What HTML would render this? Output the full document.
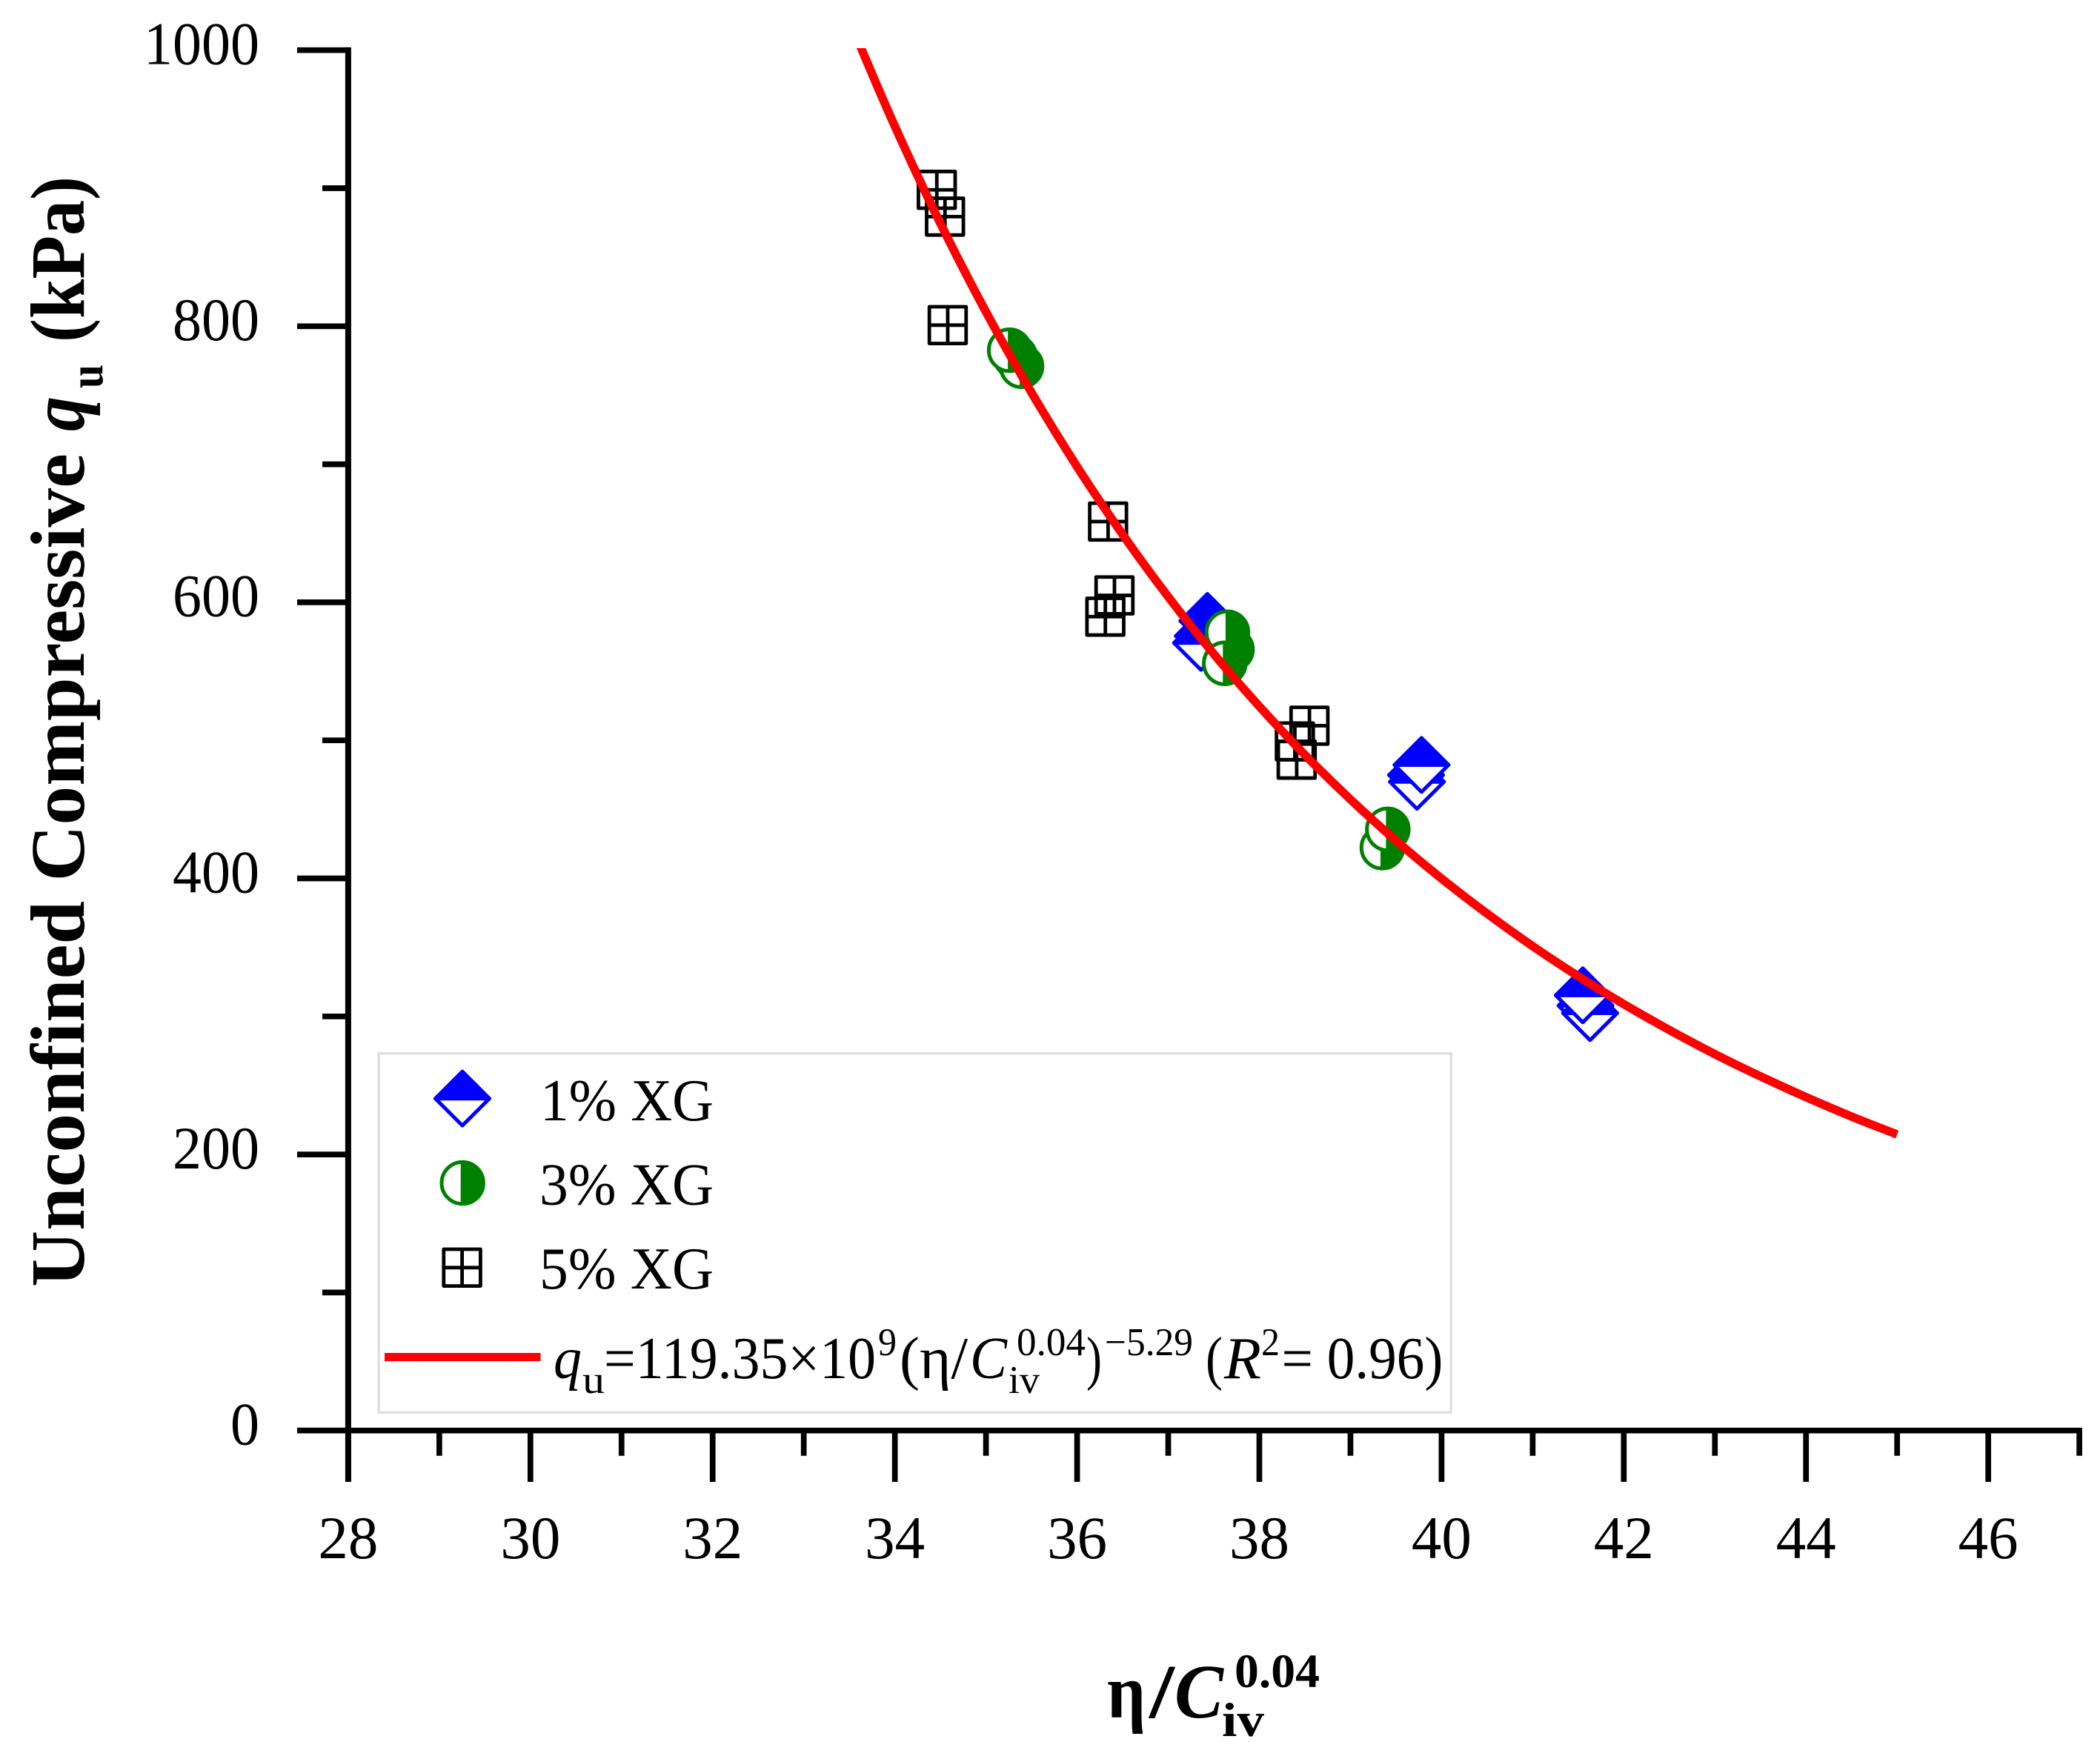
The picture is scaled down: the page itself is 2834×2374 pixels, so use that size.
<!DOCTYPE html>
<html lang="en">
<head>
<meta charset="utf-8">
<title>Unconfined Compressive Strength Chart</title>
<style>
html,body{margin:0;padding:0;background:#fff;}
svg{display:block;}
text{font-family:"Liberation Serif","DejaVu Serif",serif;fill:#000;}
.leg{font-size:80px;}
.small{font-size:53px;}
.ttl{font-weight:bold;font-size:104px;}
.ttls{font-weight:bold;font-size:65px;}
</style>
</head>
<body>
<svg id="chart" xmlns="http://www.w3.org/2000/svg" width="2834" height="2374" viewBox="0 0 2834 2374">
  <defs>
    <clipPath id="plot-clip"><rect x="400" y="65" width="2420" height="1900"/></clipPath>
  </defs>
  <rect width="2834" height="2374" fill="#fff"/>
  <g id="axes"></g>

  <g>
    <text class="ttl" transform="translate(113,1737) rotate(-90)" textLength="1125" lengthAdjust="spacingAndGlyphs">Unconfined Compressive</text>
    <text class="ttl" transform="translate(113,582) rotate(-90)" font-style="italic" textLength="47" lengthAdjust="spacingAndGlyphs">q</text>
    <text class="ttls" transform="translate(138,524) rotate(-90)" textLength="32" lengthAdjust="spacingAndGlyphs">u</text>
    <text class="ttl" transform="translate(113,462) rotate(-90)" textLength="224" lengthAdjust="spacingAndGlyphs">(kPa)</text>
  </g>

  <g>
    <text class="ttl" x="1494" y="2318" textLength="52" lengthAdjust="spacingAndGlyphs">η</text>
    <text class="ttl" x="1551" y="2318" textLength="34" lengthAdjust="spacingAndGlyphs">/</text>
    <text class="ttl" x="1585" y="2318" font-style="italic" textLength="66" lengthAdjust="spacingAndGlyphs">C</text>
    <text class="ttls" x="1649" y="2343" textLength="57" lengthAdjust="spacingAndGlyphs">iv</text>
    <text class="ttls" x="1666" y="2277" textLength="115" lengthAdjust="spacingAndGlyphs">0.04</text>
  </g>

  <g>
    <rect x="511.2" y="1421.7" width="1447" height="484.6" fill="#fff" stroke="#e0e0e0" stroke-width="3.5"/>
    <g id="lm1"></g>
    <g id="lm3"></g>
    <g id="lm5"></g>
    <text class="leg" x="729" y="1512" textLength="234" lengthAdjust="spacingAndGlyphs">1% XG</text>
    <text class="leg" x="728" y="1625.5" textLength="235" lengthAdjust="spacingAndGlyphs">3% XG</text>
    <text class="leg" x="728" y="1739" textLength="235" lengthAdjust="spacingAndGlyphs">5% XG</text>
    <rect x="519" y="1826" width="210.5" height="11" fill="#ff0000"/>
    <g>
      <text class="leg" x="747" y="1860" font-style="italic" textLength="38" lengthAdjust="spacingAndGlyphs">q</text>
      <text class="small" x="786" y="1880" textLength="30" lengthAdjust="spacingAndGlyphs">u</text>
      <text class="leg" x="815" y="1860" textLength="367" lengthAdjust="spacingAndGlyphs">=119.35×10</text>
      <text class="small" x="1185" y="1829" textLength="25" lengthAdjust="spacingAndGlyphs">9</text>
      <text class="leg" x="1214" y="1860" textLength="92" lengthAdjust="spacingAndGlyphs">(η/</text>
      <text class="leg" x="1309" y="1860" font-style="italic" textLength="50" lengthAdjust="spacingAndGlyphs">C</text>
      <text class="small" x="1361" y="1880" textLength="42" lengthAdjust="spacingAndGlyphs">iv</text>
      <text class="small" x="1372" y="1829" textLength="93" lengthAdjust="spacingAndGlyphs">0.04</text>
      <text class="leg" x="1466" y="1860" textLength="21" lengthAdjust="spacingAndGlyphs">)</text>
      <text class="small" x="1491" y="1829" textLength="119" lengthAdjust="spacingAndGlyphs">−5.29</text>
      <text class="leg" x="1627" y="1860" textLength="23" lengthAdjust="spacingAndGlyphs">(</text>
      <text class="leg" x="1652" y="1860" font-style="italic" textLength="50" lengthAdjust="spacingAndGlyphs">R</text>
      <text class="small" x="1702" y="1829" textLength="25" lengthAdjust="spacingAndGlyphs">2</text>
      <text class="leg" x="1729.5" y="1860" textLength="218" lengthAdjust="spacingAndGlyphs">= 0.96)</text>
    </g>
  </g>

  <g id="plot"></g>
</svg>

<script>
// Axis tick values
const xMajorTicks = [28, 30, 32, 34, 36, 38, 40, 42, 44, 46];
const xMinorTicks = [29, 31, 33, 35, 37, 39, 41, 43, 45, 47];
const yMajorTicks = [0, 200, 400, 600, 800, 1000];
const yMinorTicks = [100, 300, 500, 700, 900];

// 1% XG (diamonds), in drawing order
const xg1X = [37.43, 37.38, 37.36, 39.72, 39.73, 39.78, 41.58, 41.63, 41.55];
const xg1Y = [586.5, 575.6, 570.6, 474.9, 470.0, 482.2, 307.8, 302.4, 315.3];

// 3% XG (half circles), in drawing order
const xg3X = [35.32, 35.39, 35.26, 37.70, 37.65, 37.62, 39.35, 39.41];
const xg3Y = [778.0, 771.0, 782.6, 565.8, 578.3, 555.8, 422.3, 435.5];

// 5% XG (crossed squares)
const xg5X = [34.46, 34.55, 34.58, 36.34, 36.41, 36.31, 38.55, 38.39, 38.41];
const xg5Y = [898.8, 879.4, 800.8, 658.5, 605.0, 589.6, 510.6, 499.2, 486.0];

// Fit curve
const fitX = [33.6, 34, 34.5, 35, 35.5, 36, 36.5, 37, 37.5, 38, 38.5, 39, 39.5, 40, 40.5, 41, 41.5, 42, 42.5, 43, 43.5, 44, 44.5, 45];
const fitY = [1006, 944.8, 874.5, 810.4, 751.9, 698.2, 649.1, 604.0, 562.6, 524.6, 489.5, 457.2, 427.4, 399.9, 374.5, 350.9, 329.1, 308.9, 290.2, 272.7, 256.6, 241.5, 227.5, 214.5];

const NS = 'http://www.w3.org/2000/svg';
function sx(v) { return 469.9 + (v - 28) * 122.96; }
function sy(v) { return 1930.7 - v * 1.863; }

function mk(tag, parent, attrs) {
  const el = document.createElementNS(NS, tag);
  for (const k in attrs) el.setAttribute(k, attrs[k]);
  parent.appendChild(el);
  return el;
}

const axes = document.getElementById('axes');
const plot = document.getElementById('plot');
const AXW = 7.7;

// Axis lines
const yAxisLine = mk('line', axes, {x1: sx(28), x2: sx(28), y1: sy(1000) - AXW / 2, y2: 2000, stroke: '#000', 'stroke-width': 8});


const xAxisLine = mk('line', axes, {x1: 401, x2: sx(47) + AXW / 2, y1: sy(0), y2: sy(0), stroke: '#000', 'stroke-width': AXW});



// X ticks
xMajorTicks.forEach(function (v) {
  const t = mk('line', axes, {x1: sx(v), x2: sx(v), y1: sy(0), y2: 2000, stroke: '#000', 'stroke-width': AXW});
  
  
  const l = mk('text', axes, {x: sx(v), y: 2103, 'text-anchor': 'middle', 'font-size': 82, textLength: 81, lengthAdjust: 'spacingAndGlyphs'});
  
  
  l.textContent = String(v);
});
xMinorTicks.forEach(function (v) {
  const t = mk('line', axes, {x1: sx(v), x2: sx(v), y1: sy(0), y2: 1964.7, stroke: '#000', 'stroke-width': AXW});
  
  
});

// Y ticks
yMajorTicks.forEach(function (v) {
  const t = mk('line', axes, {x1: 401, x2: sx(28), y1: sy(v), y2: sy(v), stroke: '#000', 'stroke-width': AXW});
  
  
  const s = String(v);
  const l = mk('text', axes, {x: 350 - 39 * s.length, y: sy(v) + 18.8, 'font-size': 82, textLength: 39 * s.length, lengthAdjust: 'spacingAndGlyphs'});
  
  
  l.textContent = s;
});
yMinorTicks.forEach(function (v) {
  const t = mk('line', axes, {x1: 435, x2: sx(28), y1: sy(v), y2: sy(v), stroke: '#000', 'stroke-width': AXW});
  
  
});

// Marker drawers
function diamond(g, cx, cy) {
  const h = 36.5;
  mk('path', g, {d: 'M' + (cx - h) + ' ' + cy + 'L' + cx + ' ' + (cy + h) + 'L' + (cx + h) + ' ' + cy + 'Z', fill: '#fff', stroke: '#0000ff', 'stroke-width': 5, 'stroke-linejoin': 'round'});
  mk('path', g, {d: 'M' + (cx - h) + ' ' + cy + 'L' + cx + ' ' + (cy - h) + 'L' + (cx + h) + ' ' + cy + 'Z', fill: '#0000ff', stroke: '#0000ff', 'stroke-width': 5, 'stroke-linejoin': 'round'});
}
function halfCircle(g, cx, cy) {
  const r = 28.2, b = cx - 2.5, dx = 2.5;
  const dy = Math.sqrt(r * r - dx * dx);
  mk('circle', g, {cx: cx, cy: cy, r: r, fill: '#fff', stroke: '#008000', 'stroke-width': 5});
  mk('path', g, {d: 'M' + b + ' ' + (cy - dy) + 'A' + r + ' ' + r + ' 0 1 1 ' + b + ' ' + (cy + dy) + 'Z', fill: '#008000'});
}
function crossSquare(g, cx, cy) {
  const h = 24.8;
  mk('rect', g, {x: cx - h, y: cy - h, width: 2 * h, height: 2 * h, fill: 'none', stroke: '#000', 'stroke-width': 4.8, 'stroke-linejoin': 'round'});
  mk('line', g, {x1: cx - h, x2: cx + h, y1: cy, y2: cy, stroke: '#000', 'stroke-width': 4.8});
  mk('line', g, {x1: cx, x2: cx, y1: cy - h, y2: cy + h, stroke: '#000', 'stroke-width': 4.8});
}

// Series
xg1X.forEach(function (x, i) {
  const g = mk('g', plot, {});
  
  
  diamond(g, sx(x), sy(xg1Y[i]));
});
xg3X.forEach(function (x, i) {
  const g = mk('g', plot, {});
  
  
  halfCircle(g, sx(x), sy(xg3Y[i]));
});
xg5X.forEach(function (x, i) {
  const g = mk('g', plot, {});
  
  
  crossSquare(g, sx(x), sy(xg5Y[i]));
});

// Fit curve (smoothed through the read points)
const pts = fitX.map(function (x, i) { return [sx(x), sy(fitY[i])]; });
let d = 'M' + pts[0][0].toFixed(1) + ' ' + pts[0][1].toFixed(1);
for (let i = 0; i < pts.length - 1; i++) {
  const p0 = pts[Math.max(0, i - 1)], p1 = pts[i], p2 = pts[i + 1], p3 = pts[Math.min(pts.length - 1, i + 2)];
  const c1x = p1[0] + (p2[0] - p0[0]) / 6, c1y = p1[1] + (p2[1] - p0[1]) / 6;
  const c2x = p2[0] - (p3[0] - p1[0]) / 6, c2y = p2[1] - (p3[1] - p1[1]) / 6;
  d += 'C' + c1x.toFixed(1) + ' ' + c1y.toFixed(1) + ' ' + c2x.toFixed(1) + ' ' + c2y.toFixed(1) + ' ' + p2[0].toFixed(1) + ' ' + p2[1].toFixed(1);
}
const fit = mk('path', plot, {d: d, fill: 'none', stroke: '#ff0000', 'stroke-width': 11.5, 'clip-path': 'url(#plot-clip)'});



// Legend markers
diamond(document.getElementById('lm1'), 624, 1482.6);
halfCircle(document.getElementById('lm3'), 624.2, 1596.6);
crossSquare(document.getElementById('lm5'), 623.6, 1710.8);
</script>
</body>
</html>
